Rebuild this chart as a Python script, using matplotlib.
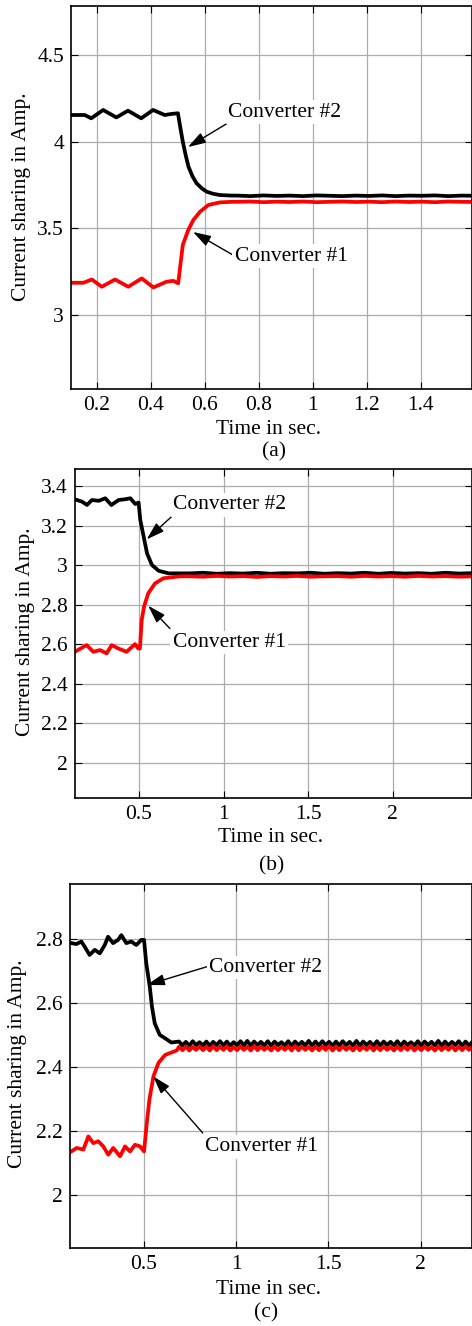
import numpy as np
import matplotlib.pyplot as plt

plt.rcParams['font.family'] = ['Liberation Serif', 'DejaVu Serif']
plt.rcParams['font.size'] = 15.5

# ---- panel (a) ----
ta_k = [0.100, 0.156, 0.180, 0.224, 0.273, 0.316, 0.365, 0.409, 0.452, 0.476, 0.501,
        0.510, 0.519, 0.530, 0.540, 0.555, 0.570, 0.590, 0.607, 0.630, 0.657, 0.700]
va_k = [4.154, 4.154, 4.135, 4.183, 4.140, 4.179, 4.135, 4.183, 4.154, 4.160, 4.164,
        4.080, 4.000, 3.920, 3.856, 3.800, 3.760, 3.730, 3.712, 3.700, 3.692, 3.689]
ta_r = [0.100, 0.151, 0.182, 0.219, 0.268, 0.317, 0.367, 0.410, 0.459, 0.484, 0.502,
        0.519, 0.539, 0.558, 0.583, 0.614, 0.657, 0.700]
va_r = [3.186, 3.186, 3.205, 3.163, 3.205, 3.163, 3.211, 3.159, 3.192, 3.197, 3.183,
        3.404, 3.490, 3.548, 3.596, 3.635, 3.650, 3.653]
ssa_k = [3.689, 3.686, 3.690, 3.687, 3.689, 3.686, 3.690, 3.688, 3.686, 3.689,
         3.687, 3.690, 3.686, 3.689, 3.688, 3.690, 3.686, 3.689, 3.688]
ssa_r = [3.653, 3.655, 3.651, 3.654, 3.652, 3.655, 3.651, 3.653, 3.655, 3.652,
         3.654, 3.651, 3.655, 3.652, 3.654, 3.651, 3.655, 3.653, 3.652]

# ---- panel (b) ----
tb_k = [0.120, 0.163, 0.193, 0.222, 0.262, 0.301, 0.337, 0.380, 0.419, 0.449, 0.478, 0.498,
        0.508, 0.528, 0.548, 0.577, 0.617, 0.676, 0.740]
vb_k = [3.333, 3.321, 3.304, 3.329, 3.325, 3.338, 3.304, 3.329, 3.333, 3.338, 3.309, 3.316,
        3.228, 3.143, 3.059, 3.000, 2.971, 2.958, 2.958]
tb_r = [0.120, 0.191, 0.230, 0.270, 0.309, 0.339, 0.378, 0.427, 0.477, 0.496,
        0.506, 0.516, 0.530, 0.555, 0.595, 0.644, 0.742]
vb_r = [2.561, 2.595, 2.561, 2.570, 2.553, 2.595, 2.578, 2.561, 2.600, 2.578,
        2.578, 2.720, 2.789, 2.857, 2.907, 2.933, 2.943]
ssb_k = [2.958, 2.961, 2.956, 2.959, 2.957, 2.961, 2.956, 2.959, 2.958, 2.961, 2.956,
         2.959, 2.957, 2.961, 2.956, 2.960, 2.957, 2.959, 2.956, 2.961, 2.957, 2.959]
ssb_r = [2.943, 2.941, 2.945, 2.942, 2.944, 2.940, 2.944, 2.942, 2.945, 2.941, 2.943,
         2.944, 2.941, 2.945, 2.942, 2.944, 2.941, 2.945, 2.942, 2.944, 2.941, 2.943]

# ---- panel (c) ----
tc_k = [0.097, 0.106, 0.133, 0.160, 0.178, 0.205, 0.233, 0.260, 0.287, 0.305, 0.332, 0.359,
        0.377, 0.404, 0.431, 0.458, 0.485, 0.500,
        0.512, 0.531, 0.543, 0.558, 0.585, 0.612, 0.648]
vc_k = [2.788, 2.788, 2.785, 2.793, 2.777, 2.751, 2.767, 2.756, 2.782, 2.808, 2.788, 2.798,
        2.813, 2.788, 2.793, 2.782, 2.798, 2.798,
        2.725, 2.652, 2.589, 2.537, 2.501, 2.491, 2.477]
tc_r = [0.097, 0.135, 0.171, 0.198, 0.225, 0.252, 0.279, 0.306, 0.333, 0.370, 0.397,
        0.424, 0.451, 0.478, 0.500,
        0.515, 0.529, 0.551, 0.578, 0.614, 0.677]
vc_r = [2.133, 2.147, 2.142, 2.183, 2.162, 2.168, 2.152, 2.126, 2.147, 2.121, 2.152,
        2.136, 2.157, 2.152, 2.136,
        2.225, 2.298, 2.371, 2.413, 2.438, 2.452]
ssc_k = [2.480, 2.468, 2.479, 2.467, 2.481, 2.469, 2.478, 2.468, 2.480, 2.467,
         2.479, 2.469, 2.481, 2.468, 2.480, 2.467, 2.478, 2.469, 2.481, 2.468,
         2.482, 2.467, 2.480, 2.469, 2.479, 2.468, 2.481, 2.467, 2.480, 2.469,
         2.478, 2.468, 2.481, 2.467, 2.480, 2.469, 2.479, 2.468, 2.482, 2.467,
         2.480, 2.468, 2.481, 2.469, 2.479, 2.467, 2.480, 2.468, 2.481, 2.469,
         2.479, 2.467, 2.482, 2.468, 2.480, 2.469, 2.479, 2.467, 2.481, 2.468,
         2.480, 2.469, 2.479, 2.468, 2.481, 2.467, 2.480, 2.469, 2.478, 2.468,
         2.481, 2.467, 2.480, 2.469, 2.479, 2.468, 2.482, 2.467, 2.480, 2.468,
         2.479, 2.469, 2.481, 2.467, 2.480, 2.468, 2.479]
ssc_r = [2.464, 2.453, 2.465, 2.452, 2.463, 2.454, 2.465, 2.453, 2.464, 2.452,
         2.466, 2.453, 2.464, 2.454, 2.465, 2.452, 2.463, 2.453, 2.465, 2.454,
         2.464, 2.452, 2.466, 2.453, 2.464, 2.454, 2.463, 2.452, 2.465, 2.453,
         2.464, 2.454, 2.465, 2.452, 2.466, 2.453, 2.464, 2.454, 2.463, 2.452,
         2.465, 2.453, 2.464, 2.454, 2.466, 2.452, 2.464, 2.453, 2.465, 2.454,
         2.463, 2.452, 2.465, 2.453, 2.464, 2.454, 2.466, 2.452, 2.464, 2.453,
         2.465, 2.454, 2.463, 2.452, 2.465, 2.453, 2.464, 2.454, 2.466, 2.452,
         2.464, 2.453, 2.465, 2.454, 2.463, 2.452, 2.465, 2.453, 2.464, 2.454,
         2.466, 2.452, 2.464, 2.453, 2.465, 2.454, 2.463]

W, H = 472, 1326
fig = plt.figure(figsize=(W / 100, H / 100), dpi=100)


def px_axes(left, top, bottom):
    # axes box from pixel edges (right edge at image border)
    return fig.add_axes([left / W, 1 - bottom / H, (W - left) / W, (bottom - top) / H])


def panel(ax, tk, vk, tr, vr, ss_k, ss_r, ss_span, xlim, ylim, xt, yt, notes):
    ax.grid(True, color='0.68', lw=0.9)
    ax.set_axisbelow(True)
    t_ss_k = np.linspace(ss_span[0], ss_span[1], len(ss_k))
    t_ss_r = np.linspace(ss_span[0], ss_span[1], len(ss_r))
    ax.plot(list(tk) + list(t_ss_k), list(vk) + list(ss_k), color='black', lw=2.7)
    ax.plot(list(tr) + list(t_ss_r), list(vr) + list(ss_r), color='red', lw=2.7)
    ax.set_xlim(*xlim)
    ax.set_ylim(*ylim)
    ax.set_xticks(xt)
    ax.set_yticks(yt)
    ax.set_xticklabels([('%g' % v) for v in xt])
    ax.set_yticklabels([('%g' % v) for v in yt])
    ax.tick_params(direction='in', top=True, right=True, length=5, width=0.8, pad=5)
    for s in ax.spines.values():
        s.set_linewidth(1.2)
    for label, txy, tail, tip in notes:
        ax.annotate('', xy=tip, xytext=tail,
                    arrowprops=dict(arrowstyle='-|>,head_length=0.7,head_width=0.22',
                                    color='black', lw=1.0, shrinkA=0, shrinkB=0))
        ax.text(txy[0], txy[1], label, ha='left', va='center',
                bbox=dict(fc='white', ec='none', pad=1.5))


# (a)
ax1 = px_axes(71, 6, 389)
panel(ax1, ta_k, va_k, ta_r, va_r, ssa_k, ssa_r, (0.72, 1.60),
      (0.105, 1.59), (2.573, 4.783),
      [0.2, 0.4, 0.6, 0.8, 1.0, 1.2, 1.4], [3, 3.5, 4, 4.5],
      [('Converter #2', (0.688, 4.171), (0.686, 4.108), (0.538, 3.969)),
       ('Converter #1', (0.711, 3.34), (0.705, 3.346), (0.557, 3.479))])

# (b)
ax2 = px_axes(75, 469, 797.7)
panel(ax2, tb_k, vb_k, tb_r, vb_r, ssb_k, ssb_r, (0.80, 2.47),
      (0.122, 2.469), (1.823, 3.486),
      [0.5, 1.0, 1.5, 2.0], [2, 2.2, 2.4, 2.6, 2.8, 3, 3.2, 3.4],
      [('Converter #2', (0.703, 3.304), (0.693, 3.245), (0.546, 3.13)),
       ('Converter #1', (0.699, 2.607), (0.683, 2.679), (0.555, 2.794))])

# (c)
ax3 = px_axes(69.7, 884, 1248.3)
panel(ax3, tc_k, vc_k, tc_r, vc_r, ssc_k, ssc_r, (0.69, 2.28),
      (0.097, 2.278), (1.833, 2.973),
      [0.5, 1.0, 1.5, 2.0], [2, 2.2, 2.4, 2.6, 2.8],
      [('Converter #2', (0.851, 2.712), (0.840, 2.714), (0.515, 2.657)),
       ('Converter #1', (0.833, 2.15), (0.818, 2.194), (0.550, 2.371))])

# axis titles and captions
for (xl_x, xl_y, cap_x, cap_y, yl_x, yl_y, cap) in [
        (268, 430, 274, 452, 22, 197, '(a)'),
        (271, 838, 272, 866, 26, 632, '(b)'),
        (269, 1289, 266, 1313, 18, 1064, '(c)')]:
    fig.text(xl_x / W, 1 - xl_y / H, 'Time in sec.', ha='center', va='center')
    fig.text(cap_x / W, 1 - cap_y / H, cap, ha='center', va='center')
    fig.text(yl_x / W, 1 - yl_y / H, 'Current sharing in Amp.', ha='center', va='center',
             rotation=90)

fig.savefig('out.png', dpi=100)
